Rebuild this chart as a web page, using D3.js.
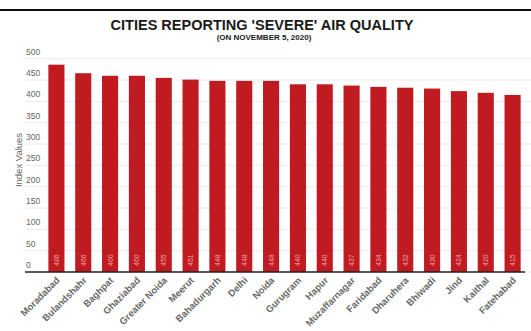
<!DOCTYPE html>
<html>
<head>
<meta charset="utf-8">
<script src="https://cdn.jsdelivr.net/npm/d3@7"></script>
<style>
  html, body { margin: 0; padding: 0; background: #fff; }
  svg { display: block; font-family: "Liberation Sans", Arial, sans-serif; }
</style>
</head>
<body>
<div id="chart"></div>
<script>
// Datos
const cities = ["Moradabad", "Bulandshahr", "Baghpat", "Ghaziabad", "Greater Noida", "Meerut",
  "Bahadurgarh", "Delhi", "Noida", "Gurugram", "Hapur", "Muzaffarnagar", "Faridabad",
  "Dharuhera", "Bhiwadi", "Jind", "Kaithal", "Fatehabad"];
const aqiValues = [486, 466, 460, 460, 455, 451, 448, 448, 448, 440, 440, 437, 434, 432, 430, 424, 420, 415];
const yTicks = [0, 50, 100, 150, 200, 250, 300, 350, 400, 450, 500];

const W = 531, H = 331;
const baseY = 272;

const svg = d3.select("#chart").append("svg")
  .attr("width", W).attr("height", H);

// Línea negra superior
svg.append("rect").attr("x", 0).attr("y", 9).attr("width", W).attr("height", 2).attr("fill", "#111");

// Título
svg.append("text")
  .attr("x", 262).attr("y", 30)
  .attr("text-anchor", "middle")
  .style("font-size", "14.5px").style("font-weight", "bold").style("fill", "#1a1a1a")
  .text("CITIES REPORTING 'SEVERE' AIR QUALITY");
svg.append("text")
  .attr("x", 264).attr("y", 40)
  .attr("text-anchor", "middle")
  .style("font-size", "8px").style("font-weight", "bold").style("fill", "#1a1a1a")
  .text("(ON NOVEMBER 5, 2020)");

// Escalas
const x = d3.scaleBand()
  .domain(cities)
  .range([43, 526])
  .paddingInner(0.4)
  .paddingOuter(0.2);

const y = d3.scaleLinear()
  .domain([0, 500])
  .range([baseY, baseY - 213.3]);

// Cuadrícula
svg.append("g")
  .selectAll("line")
  .data(yTicks)
  .enter()
  .append("line")
  .attr("x1", 26).attr("x2", W)
  .attr("y1", d => y(d)).attr("y2", d => y(d))
  .attr("stroke", "#ececec").attr("stroke-width", 1);

// Etiquetas eje Y
svg.append("g")
  .selectAll("text")
  .data(yTicks)
  .enter()
  .append("text")
  .attr("x", 26)
  .attr("y", d => y(d) - 4)
  .style("font-size", "8.5px").style("fill", "#666")
  .text(d => d);

svg.append("text")
  .attr("transform", "translate(22,160) rotate(-90)")
  .attr("text-anchor", "middle")
  .style("font-size", "9.5px").style("fill", "#666")
  .text("Index Values");

// Barras
svg.append("g")
  .selectAll("rect")
  .data(cities)
  .enter()
  .append("rect")
  .attr("x", d => x(d))
  .attr("width", x.bandwidth())
  .attr("y", (d, i) => y(aqiValues[i]))
  .attr("height", (d, i) => y(0) - y(aqiValues[i]))
  .attr("fill", "#c01b21");

// Valores dentro de las barras
svg.append("g")
  .selectAll("text")
  .data(cities)
  .enter()
  .append("text")
  .attr("transform", d => `translate(${x(d) + x.bandwidth() / 2 + 2.5},${baseY - 6}) rotate(-90)`)
  .style("font-size", "7px").style("fill", "#f0a0a0")
  .text((d, i) => aqiValues[i]);

// Eje X
svg.append("line")
  .attr("x1", 25).attr("x2", 525)
  .attr("y1", baseY).attr("y2", baseY)
  .attr("stroke", "#222").attr("stroke-width", 1.5);

svg.append("g")
  .selectAll("text")
  .data(cities)
  .enter()
  .append("text")
  .attr("transform", d => `translate(${x(d) + x.bandwidth() / 2 + 4},${baseY + 9}) rotate(-45)`)
  .attr("text-anchor", "end")
  .style("font-size", "9.5px").style("font-weight", "bold").style("fill", "#6a6a6a")
  .text(d => d);
</script>
</body>
</html>
